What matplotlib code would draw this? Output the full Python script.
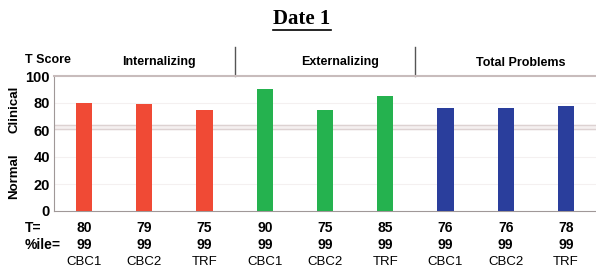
import numpy as np
import matplotlib.pyplot as plt
from matplotlib.lines import Line2D

# chart data
groups = ["Internalizing", "Externalizing", "Total Problems"]
informants = ["CBC1", "CBC2", "TRF", "CBC1", "CBC2", "TRF", "CBC1", "CBC2", "TRF"]
t_scores = [80, 79, 75, 90, 75, 85, 76, 76, 78]
percentiles = [99, 99, 99, 99, 99, 99, 99, 99, 99]
group_colors = ["#F04A35", "#25B24F", "#2A3E9C"]
y_ticks = [0, 20, 40, 60, 80, 100]

W, H = 596, 270
fig = plt.figure(figsize=(W / 100, H / 100), dpi=100)
ax = fig.add_axes([54 / W, 1 - 211 / H, (596 - 54) / W, (211 - 76) / H])

x = np.arange(len(t_scores))
colors = [group_colors[i // 3] for i in range(len(t_scores))]
ax.bar(x, t_scores, width=0.27, color=colors, zorder=3)

ax.set_xlim(-0.5, 8.5)
ax.set_ylim(0, 100)
ax.set_yticks(y_ticks)
ax.set_yticklabels([str(v) for v in y_ticks], fontsize=10.5, fontweight="bold",
                   family="Liberation Sans")
ax.tick_params(axis="y", length=0, pad=3)
ax.set_xticks([])

# faint grid and clinical cut-off band
for v in [20, 40, 80]:
    ax.axhline(v, color="#F4F0F0", lw=0.8, zorder=1)
ax.axhspan(61, 64, color="#F5F0F0", zorder=1)
ax.axhline(61, color="#DDD2D2", lw=1.0, zorder=2)
ax.axhline(64, color="#DDD2D2", lw=1.0, zorder=2)

ax.spines["right"].set_visible(False)
ax.spines["left"].set_color("#A09898")
ax.spines["bottom"].set_color("#A09898")
ax.spines["top"].set_color("#C8BCBC")
ax.spines["top"].set_linewidth(1.5)

# header: group names and separators
trans = ax.get_xaxis_transform()
for g, name in enumerate(groups):
    ax.text(g * 3 + 1.25, 1.10, name, transform=trans, ha="center",
            va="center", fontsize=9, fontweight="bold", family="Liberation Sans")
for sep in [2.5, 5.5]:
    ax.add_line(Line2D([sep, sep], [1.0, 1.215], transform=trans, color="#555555",
                       lw=1.0, clip_on=False))

fig.text(25 / W, 1 - 60 / H, "T Score", fontsize=9, fontweight="bold",
         family="Liberation Sans", va="center")

# rows under the bars
fig.text(25 / W, 1 - 228 / H, "T=", fontsize=10, fontweight="bold",
         family="Liberation Sans", va="center")
fig.text(25 / W, 1 - 245 / H, "%ile=", fontsize=10, fontweight="bold",
         family="Liberation Sans", va="center")
for i in range(len(t_scores)):
    ax.text(x[i], -0.126, str(t_scores[i]), transform=trans, ha="center", va="center",
            fontsize=10, fontweight="bold", family="Liberation Sans")
    ax.text(x[i], -0.252, str(percentiles[i]), transform=trans, ha="center", va="center",
            fontsize=10, fontweight="bold", family="Liberation Sans")
    ax.text(x[i], -0.378, informants[i], transform=trans, ha="center", va="center",
            fontsize=9.5, family="Liberation Sans")

# side labels
fig.text(14 / W, 1 - 109 / H, "Clinical", rotation=90, ha="center", va="center",
         fontsize=9.5, fontweight="bold", family="Liberation Sans")
fig.text(14 / W, 1 - 176 / H, "Normal", rotation=90, ha="center", va="center",
         fontsize=9.5, fontweight="bold", family="Liberation Sans")

# title with underline
fig.text(302 / W, 1 - 19 / H, "Date 1", ha="center", va="center", fontsize=15,
         fontweight="bold", family="Liberation Serif")
fig.add_artist(Line2D([273 / W, 331 / W], [1 - 30 / H, 1 - 30 / H],
                      transform=fig.transFigure, color="black", lw=1.2))

fig.savefig("out.png", dpi=100)
